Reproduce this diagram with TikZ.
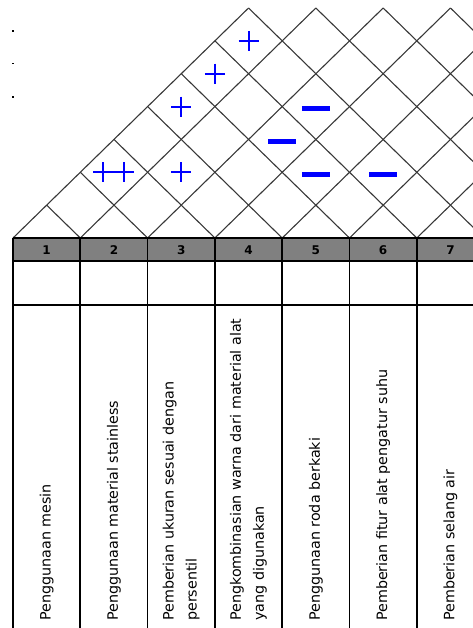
\documentclass[tikz,border=0pt]{standalone}
\usepackage{fontspec}
\setmainfont{DejaVu Sans}
\begin{document}
\begin{tikzpicture}[x=1pt,y=-1pt,
  roofline/.style={black!78,line width=1.1pt},
  tabline/.style={black,line width=1.7pt},
  headfill/.style={fill=black!50},
  plussign/.style={blue,line width=2pt},
  minussign/.style={blue,line width=5pt},
  numtext/.style={font=\bfseries\fontsize{12}{13}\selectfont,inner sep=0pt,anchor=base},
  reqtext/.style={font=\fontsize{14.3}{23}\selectfont,rotate=90,anchor=west,align=left,inner sep=0pt}]
\useasboundingbox (0,0) rectangle (473,628);
\clip (0,0) rectangle (473,628);
\def\W{67.3}
\def\H{33.65}
\def\V{32.857}
% small dots at the left
\fill[black] (12.4,30.4) rectangle (13.8,31.8);
\fill[black] (12.4,62.9) rectangle (13.8,64.3);
\fill[black] (12.4,96.4) rectangle (13.8,97.8);
% roof (correlation matrix)
\foreach \k in {0,...,6} {
  \draw[roofline] ({13+\W*\k},238) -- ({13+\W*\k+7*\H},8);
}
\foreach \k in {1,...,10} {
  \pgfmathsetmacro\s{min(\k,7)}
  \draw[roofline] ({13+\W*\k},238) -- ({13+\W*\k-\s*\H},{238-\s*\V});
}
% symbols in the roof: pair (i,j) centre at x=13+W*(i+j-1)/2, y=238-(j-i)*V
% ++ (1,3)
\draw[plussign] ({13+\W*1.5-20.5},{238-2*\V}) -- ({13+\W*1.5+20.5},{238-2*\V})
  ({13+\W*1.5-10.5},{238-2*\V-10}) -- ({13+\W*1.5-10.5},{238-2*\V+10})
  ({13+\W*1.5+10.5},{238-2*\V-10}) -- ({13+\W*1.5+10.5},{238-2*\V+10});
% + signs: (2,4), (1,5), (1,6), (1,7)
\foreach \c/\d in {2.5/2, 2.5/4, 3/5, 3.5/6} {
  \draw[plussign] ({13+\W*\c-10},{238-\d*\V}) -- ({13+\W*\c+10},{238-\d*\V})
    ({13+\W*\c},{238-\d*\V-10}) -- ({13+\W*\c},{238-\d*\V+10});
}
% - signs: (3,7), (3,6), (4,6), (5,7)
\foreach \c/\d in {4.5/4, 4/3, 4.5/2, 5.5/2} {
  \draw[minussign] ({13+\W*\c-14},{238-\d*\V+2}) -- ({13+\W*\c+14},{238-\d*\V+2});
}
% table
\fill[headfill] (13,238) rectangle (480,261);
\draw[tabline] (13,238) -- (480,238);
\draw[tabline] (13,261) -- (480,261);
\draw[tabline] (13,305) -- (480,305);
\foreach \k in {0,...,6} {
  \draw[tabline] ({13+\W*\k},238) -- ({13+\W*\k},640);
}
% header numbers
\foreach \k in {1,...,7} {
  \node[numtext] (n\k) at ({13+\W*(\k-0.5)},254) {\k};
}
% requirement texts
\node[reqtext] (r1) at ({13+\W*0.5},621) {Penggunaan mesin};
\node[reqtext] (r2) at ({13+\W*1.5},621) {Penggunaan material stainless};
\node[reqtext] (r3) at ({13+\W*2.5},621) {Pemberian ukuran sesuai dengan\\persentil};
\node[reqtext] (r4) at ({13+\W*3.5},621) {Pengkombinasian warna dari material alat\\yang digunakan};
\node[reqtext] (r5) at ({13+\W*4.5},621) {Penggunaan roda berkaki};
\node[reqtext] (r6) at ({13+\W*5.5},621) {Pemberian fitur alat pengatur suhu};
\node[reqtext] (r7) at ({13+\W*6.5},621) {Pemberian selang air};
\end{tikzpicture}
\end{document}
